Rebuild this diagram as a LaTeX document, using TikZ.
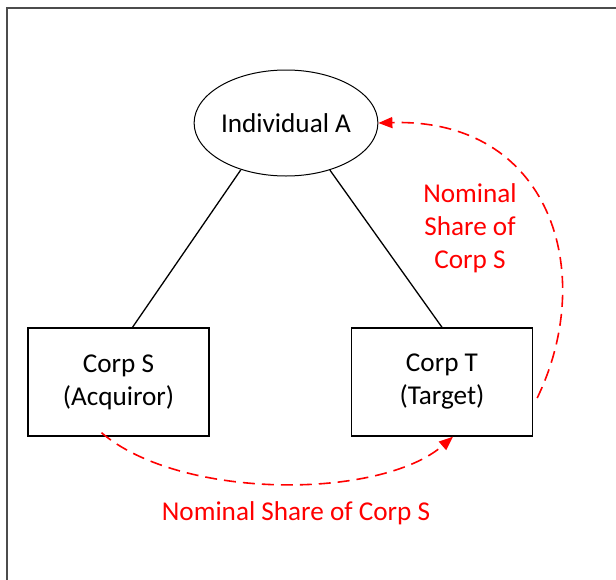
\documentclass[tikz,border=0pt]{standalone}
\usepackage{fontspec}
\setmainfont{Carlito}
\usetikzlibrary{shapes.geometric,arrows.meta}
\begin{document}
\begin{tikzpicture}[x=1pt,y=-1pt,
  every node/.style={font=\fontsize{27.2}{33}\selectfont, align=center},
  corp/.style={draw, line width=1.4pt, minimum width=181pt, minimum height=108pt, inner sep=0pt},
  person/.style={draw, ellipse, line width=1pt, minimum width=182pt, minimum height=106pt, inner sep=0pt},
  link/.style={line width=1.3pt},
  flow/.style={red, line width=1.6pt, dash pattern=on 12pt off 7pt, -{Triangle[length=14pt,width=11pt]}},
  flowlabel/.style={red}]
\useasboundingbox (0,0) rectangle (616,579);
\draw[gray!60!black, line width=2pt] (7,8) rectangle (700,700);
\node[person] (a) at (286,123) {Individual A};
\node[corp] (s) at (118.5,382) {Corp S\\(Acquiror)};
\node[corp] (t) at (442,382) {Corp T\\(Target)};
\draw[link] (a.226) -- ([xshift=14pt]s.north);
\draw[link] (a.313) -- (t.north);
\draw[flow] ([xshift=-17pt,yshift=4pt]s.south) .. controls (180,500) and (380,500) .. ([xshift=11pt]t.south);
\draw[flow] ([xshift=4pt,yshift=-16pt]t.east) .. controls (598,272) and (550,118) .. (a.east);
\node[flowlabel] (l1) at (296,513) {Nominal Share of Corp S};
\node[flowlabel] (l2) at (470,228) {Nominal\\Share of\\Corp S};
\end{tikzpicture}
\end{document}
